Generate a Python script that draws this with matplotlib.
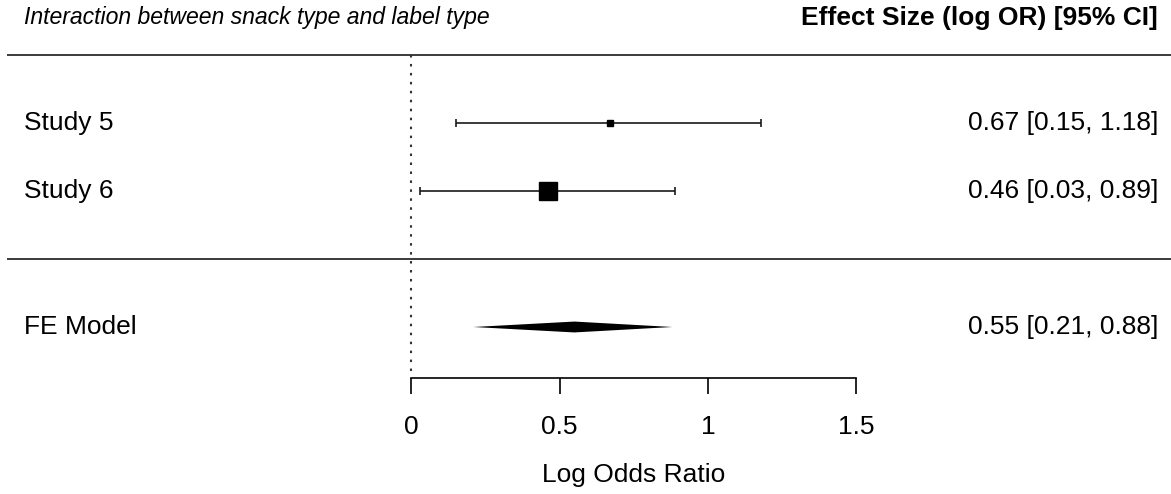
import matplotlib
matplotlib.use("Agg")
import matplotlib.pyplot as plt
import numpy as np

plt.rcParams['font.family'] = ['Liberation Sans', 'DejaVu Sans']

# study estimates (log odds ratios) with 95% CI
studies = ['Study 5', 'Study 6']
est = np.array([0.67, 0.46])
ci_lb = np.array([0.15, 0.03])
ci_ub = np.array([1.18, 0.89])

# fixed-effect summary
fe_label = 'FE Model'
fe_est, fe_lb, fe_ub = 0.55, 0.21, 0.88

xticks = [0, 0.5, 1, 1.5]
xticklabels = ['0', '0.5', '1', '1.5']

title_left = 'Interaction between snack type and label type'
title_right = 'Effect Size (log OR) [95% CI]'
xlab = 'Log Odds Ratio'

k = len(studies)
rows = np.arange(k, 0, -1)  # first study on top

# square size from inverse-variance weights, scaled to [0.5, 1.5]
se = (ci_ub - ci_lb) / (2 * 1.96)
w = 1 / se ** 2
psize = 0.5 + (w - w.min()) / (w.max() - w.min())

fig = plt.figure(figsize=(11.71, 4.94), dpi=100)
ax = fig.add_axes([0, 0, 1, 1])
ax.set_xlim(-1.384, 2.559)
ax.set_ylim(-3.456, 3.809)

FS = 19
lab_x = -1.303
val_x = 2.515

# separator lines and reference line at 0
ax.hlines([k + 1, 0], -1.36, 2.559, color='#1a1a1a', lw=1.2)
ax.plot([0, 0], [k + 1, -1.66], color='#333333', lw=1.5, linestyle=(0, (1.2, 3.1)))

# per-study CIs and squares
for r, name, e, lo, hi, ps in zip(rows, studies, est, ci_lb, ci_ub, psize):
    ax.errorbar(e, r, xerr=[[e - lo], [hi - e]], fmt='none', ecolor='#1a1a1a',
                elinewidth=1.2, capsize=3, capthick=1.2)
    ax.plot(e, r, marker='s', color='black', markersize=8.64 * ps, linestyle='none')
    ax.text(lab_x, r, name, fontsize=FS, va='center', ha='left')
    ax.text(val_x, r, f'{e:.2f} [{lo:.2f}, {hi:.2f}]', fontsize=FS, va='center', ha='right')

# summary diamond
h = 0.08
ax.fill([fe_lb, fe_est, fe_ub, fe_est], [-1, -1 + h, -1, -1 - h], color='black', lw=0)
ax.text(lab_x, -1, fe_label, fontsize=FS, va='center', ha='left')
ax.text(val_x, -1, f'{fe_est:.2f} [{fe_lb:.2f}, {fe_ub:.2f}]', fontsize=FS, va='center', ha='right')

# headers
ax.text(lab_x, 3.55, title_left, fontsize=16.6, style='italic', va='center', ha='left')
ax.text(val_x, 3.55, title_right, fontsize=FS, weight='bold', va='center', ha='right')

# x axis drawn as a floating spine
for s in ['top', 'right', 'left']:
    ax.spines[s].set_visible(False)
ax.spines['bottom'].set_position(('data', -1.75))
ax.spines['bottom'].set_bounds(xticks[0], xticks[-1])
ax.spines['bottom'].set_linewidth(1.2)
ax.set_xticks(xticks)
ax.set_xticklabels(xticklabels, fontsize=FS)
ax.tick_params(axis='x', length=11.5, width=1.2, pad=15)
ax.set_yticks([])
ax.text(0.75, -3.176, xlab, fontsize=FS, va='center', ha='center')

fig.savefig('out.png', dpi=100)
